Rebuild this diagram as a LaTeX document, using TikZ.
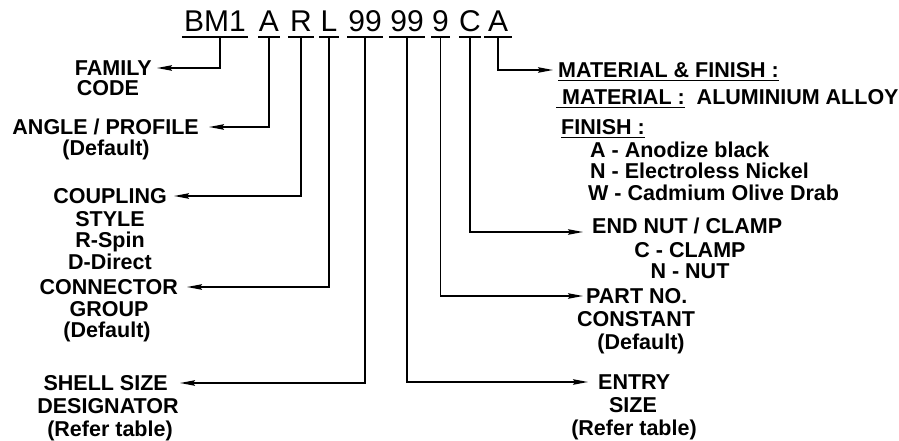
\documentclass[tikz,border=0pt]{standalone}
\usepackage{fontspec}
\setmainfont{Liberation Sans}
\usetikzlibrary{arrows.meta}
\newcommand{\myul}[1]{\setbox0\hbox{#1}\rlap{\vrule height -2.0pt depth 3.6pt width \wd0}\box0}
\begin{document}
\begin{tikzpicture}[x=1pt,y=-1pt,
  codetxt/.style={font=\fontsize{30}{30}\selectfont, inner sep=0pt, text height=21.5pt, text depth=5pt, anchor=south},
  lbl/.style={font=\bfseries\fontsize{21.5}{22}\selectfont, inner sep=0pt, text height=15.4pt, text depth=0pt},
  uline/.style={line width=1.6pt},
  conn/.style={line width=1.6pt, -{Stealth[length=15pt,width=5.5pt,inset=2pt]}}]
\useasboundingbox (0,0) rectangle (899,441);
% code
\node[codetxt, minimum width=66pt] (bm) at (215,37) {BM1};
\node[codetxt, minimum width=21pt] (a1) at (269,37) {A};
\node[codetxt, minimum width=26pt] (r) at (301,37) {R};
\node[codetxt, minimum width=20pt] (l) at (329,37) {L};
\node[codetxt, minimum width=35pt] (n1) at (365,37) {99};
\node[codetxt, minimum width=36pt] (n2) at (407,37) {99};
\node[codetxt, minimum width=18pt] (n3) at (440.5,37) {9};
\node[codetxt, minimum width=22pt] (c) at (470,37) {C};
\node[codetxt, minimum width=28pt] (a2) at (498,37) {A};
\foreach \n in {bm,a1,r,l,n1,n2,n3,c,a2}
  \draw[uline] (\n.south west) -- (\n.south east);
% left labels
\node[lbl, anchor=east, inner xsep=5pt] (family) at (157,68) {FAMILY};
\node[lbl] (code) at (108,88) {CODE};
\node[lbl, anchor=east, inner xsep=10pt] (angle) at (209,127) {ANGLE / PROFILE};
\node[lbl] (angdef) at (106,148) {(Default)};
\node[lbl, anchor=east, inner xsep=7pt] (coupling) at (174,196) {COUPLING};
\node[lbl] (style) at (110,219) {STYLE};
\node[lbl] (rspin) at (110,240) {R-Spin};
\node[lbl] (ddirect) at (110,262) {D-Direct};
\node[lbl, anchor=east, inner xsep=9pt] (connector) at (187,287) {CONNECTOR};
\node[lbl] (group) at (109,309) {GROUP};
\node[lbl] (condef) at (107,330) {(Default)};
\node[lbl, anchor=east, inner xsep=12pt] (shell) at (180,383) {SHELL SIZE};
\node[lbl] (desig) at (108,406) {DESIGNATOR};
\node[lbl] (shellref) at (110,429) {(Refer table)};
% right labels
\node[lbl, anchor=west, inner xsep=5pt] (matfin) at (553,70) {\myul{MATERIAL \& FINISH :}};
\node[lbl, anchor=west] (matal) at (556,97) {\myul{\ MATERIAL :}\ \ ALUMINIUM ALLOY};
\node[lbl, anchor=west] (finish) at (561,127) {\myul{FINISH :}};
\node[lbl, anchor=west] (fa) at (590,150) {A - Anodize black};
\node[lbl, anchor=west] (fn) at (590,171) {N - Electroless Nickel};
\node[lbl, anchor=west] (fw) at (588,193) {W - Cadmium Olive Drab};
\node[lbl, anchor=west, inner xsep=9pt] (endnut) at (583,226) {END NUT / CLAMP};
\node[lbl] (cclamp) at (690,250) {C - CLAMP};
\node[lbl] (nnut) at (690,271) {N - NUT};
\node[lbl, anchor=west, inner xsep=3pt] (partno) at (583,296) {PART NO.};
\node[lbl] (constant) at (636,319) {CONSTANT};
\node[lbl] (partdef) at (641,342) {(Default)};
\node[lbl, anchor=west, inner xsep=10pt] (entry) at (588,382) {ENTRY};
\node[lbl] (size) at (633,405) {SIZE};
\node[lbl] (entryref) at (634,428) {(Refer table)};
% connectors
\draw[conn] ([xshift=5pt]bm.south) |- (family.east);
\draw[conn] (a1.south) |- (angle.east);
\draw[conn] (r.south) |- (coupling.east);
\draw[conn] (l.south) |- (connector.east);
\draw[conn] (n1.south) |- (shell.east);
\draw[conn] (n2.south) |- (entry.west);
\draw[conn] (n3.south) |- (partno.west);
\draw[conn] (c.south) |- ([yshift=-6pt]endnut.west);
\draw[conn] (a2.south) |- (matfin.west);
\end{tikzpicture}
\end{document}
